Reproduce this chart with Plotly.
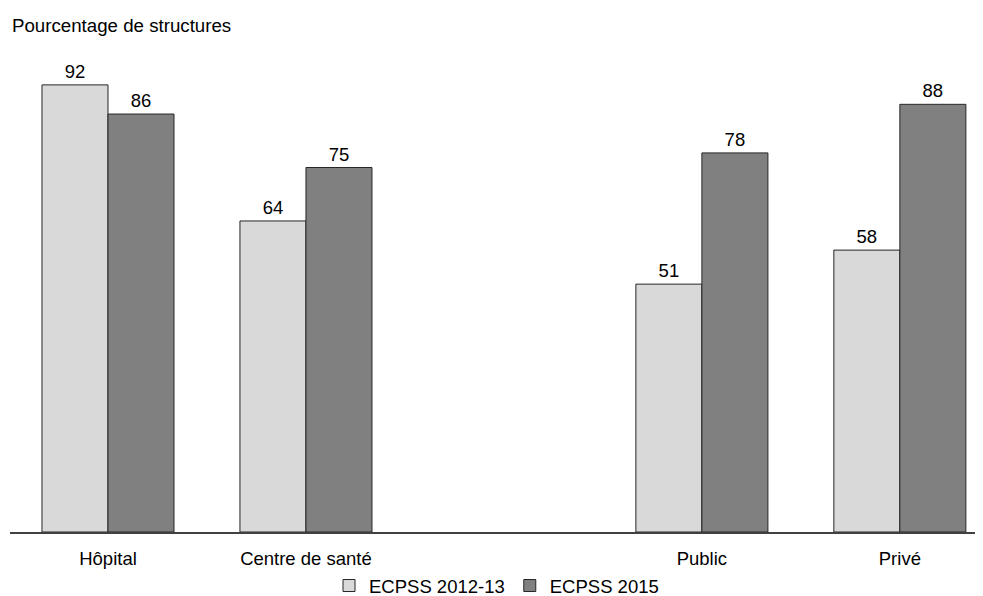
import plotly.graph_objects as go

categories = ["Hôpital", "Centre de santé", " ", "Public", "Privé"]
series_names = ["ECPSS 2012-13", "ECPSS 2015"]
values_2012 = [92, 64, None, 51, 58]
values_2015 = [86, 75, None, 78, 88]
colors = ["#d9d9d9", "#808080"]

fig = go.Figure()
for name, vals, col in zip(series_names, [values_2012, values_2015], colors):
    fig.add_trace(go.Bar(
        x=categories, y=vals, name=name,
        marker=dict(color=col, line=dict(color="#262626", width=1)),
        text=[("" if v is None else str(v)) for v in vals],
        textposition="outside", cliponaxis=False,
        textfont=dict(size=18.5, color="#000000"),
    ))

# page body has an 8px margin; figure sized so that it fills the window exactly
fig.update_layout(
    width=975, height=588,
    margin=dict(l=2, r=0, t=38, b=64, autoexpand=False),
    paper_bgcolor="white", plot_bgcolor="white",
    font=dict(family="Liberation Sans, Arial, sans-serif", size=18.5, color="#000000"),
    barmode="group", bargap=0.333, bargroupgap=0,
    showlegend=True,
    legend=dict(orientation="h", x=0.5, xanchor="center", y=-54/486, yanchor="middle",
                font=dict(size=18.5), itemwidth=30, traceorder="normal"),
    annotations=[dict(text="Pourcentage de structures", x=0, y=1 + 21/486,
                      xref="paper", yref="paper", showarrow=False,
                      xanchor="left", yanchor="middle", font=dict(size=18.7))],
)

fig.update_xaxes(type="category", categoryorder="array", categoryarray=categories,
                 range=[-0.495, 4.42], showline=True, linecolor="#404040", linewidth=1.5,
                 ticks="", showgrid=False, tickfont=dict(size=18.5), ticklabelstandoff=9)
fig.update_yaxes(range=[0, 100], showticklabels=False, showgrid=False, zeroline=False,
                 showline=False, ticks="")

fig.write_html("out.html")
